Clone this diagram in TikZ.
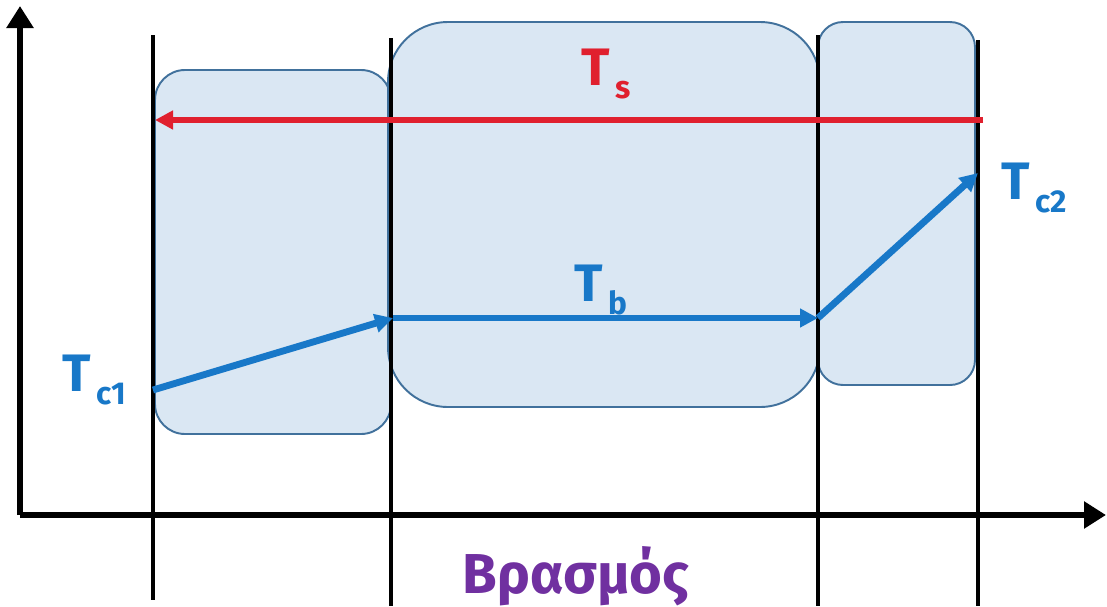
\documentclass[tikz,border=0pt]{standalone}
\usepackage{fontspec}
\setmainfont{Fira Sans}
\usepackage{xcolor}
\usepackage{tikz}
\usetikzlibrary{arrows.meta}
\definecolor{zone}{HTML}{DAE7F3}
\definecolor{zoneline}{HTML}{41719C}
\definecolor{hot}{HTML}{E0202E}
\definecolor{flow}{HTML}{1878C8}
\definecolor{boil}{HTML}{7030A0}
\newcommand{\tsub}[1]{\raisebox{-0.45ex}{\fontsize{18}{20}\selectfont\,#1}}

\begin{document}
\begin{tikzpicture}[x=0.02cm, y=-0.02cm,
    zonebox/.style={draw=zoneline, fill=zone, line width=1.1pt},
    divider/.style={black, line width=1.9pt},
    axis/.style={line width=3.4pt, -{Triangle[length=22*0.02cm, width=26*0.02cm]}},
    temp/.style={line width=3.9pt, -{Triangle[length=18*0.02cm, width=18*0.02cm]}},
    label/.style={font=\fontsize{30}{32}\selectfont\bfseries}]
  \useasboundingbox (0,0) rectangle (1107,606);
  % heating zones
  \draw[zonebox, rounded corners=0.6cm] (155,70) rectangle (391,434);
  \draw[zonebox, rounded corners=1.2cm] (388,22) rectangle (820,407);
  \draw[zonebox, rounded corners=0.5cm] (818,22) rectangle (975,385);
  % zone borders
  \draw[divider] (153,35) -- (153,600);
  \draw[divider] (391,38) -- (391,606);
  \draw[divider] (818,35) -- (818,606);
  \draw[divider] (978,40) -- (978,606);
  % axes
  \coordinate (origin) at (20,515);
  \coordinate (ytop) at (20,6);
  \coordinate (xend) at (1106,515);
  \draw[axis] (origin) -- (ytop);
  \draw[axis] (origin) -- (xend);
  % temperatures
  \coordinate (s1) at (983,120);
  \coordinate (s0) at (155,120);
  \coordinate (c1) at (153,390);
  \coordinate (b0) at (393,318);
  \coordinate (b1) at (818,318);
  \coordinate (c2) at (978,173);
  \draw[temp, hot] (s1) -- (s0);
  \draw[temp, flow] (c1) -- (b0);
  \draw[temp, flow] (b0) -- (b1);
  \draw[temp, flow] (b1) -- (c2);
  \node[label, text=hot] (ts) at (606,74) {T\tsub{s}};
  \node[label, text=flow] (tb) at (601,290) {T\tsub{b}};
  \node[label, text=flow] (tc1) at (94,380) {T\tsub{c1}};
  \node[label, text=flow] (tc2) at (1034,188) {T\tsub{c2}};
  \node[font=\fontsize{32}{36}\selectfont\bfseries, text=boil] (boiling) at (576,576) {Βρασμός};
\end{tikzpicture}
\end{document}
